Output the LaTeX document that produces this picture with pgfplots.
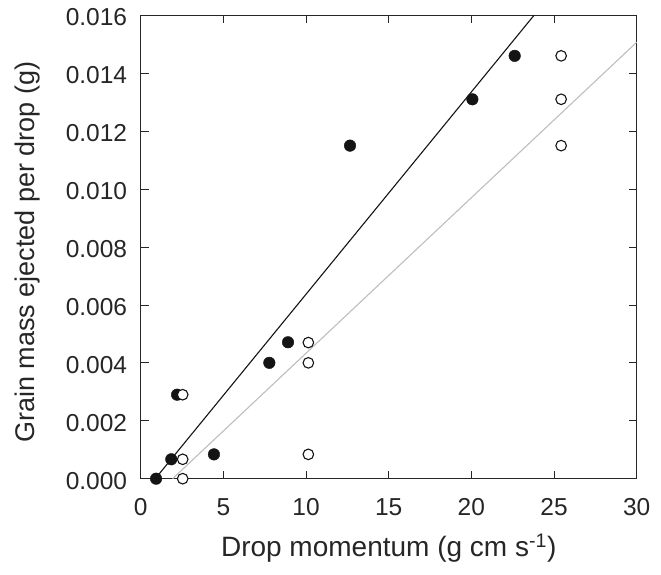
\documentclass[border=0pt]{standalone}
\usepackage{fontspec}
\setmainfont{Liberation Sans}
\usepackage{pgfplots}
\pgfplotsset{compat=1.18}
\definecolor{dk}{RGB}{20,20,20}
\definecolor{lg}{RGB}{190,190,190}
\begin{document}
\begin{tikzpicture}
\begin{axis}[
  scale only axis,
  width=496pt, height=463.4pt,
  xmin=0, xmax=30, ymin=0, ymax=0.016,
  xtick={0,5,...,30},
  ytick={0,0.002,...,0.016},
  scaled y ticks=false,
  yticklabel style={/pgf/number format/fixed, /pgf/number format/fixed zerofill, /pgf/number format/precision=3},
  /pgf/number format/assume math mode=true,
  tick label style={font=\fontsize{24.5}{28}\selectfont, text=black!85},
  xticklabel style={anchor=base, yshift=-36.3pt},
  yticklabel style={anchor=east, inner sep=0pt, xshift=-13.4pt, yshift=-2pt},
  tick align=inside,
  major tick length=8pt,
  tick style={line width=0.8pt, black!85},
  axis line style={line width=0.9pt, black!85},
  xlabel={Drop momentum (g cm s\textsuperscript{-1})},
  ylabel={Grain mass ejected per drop (g)},
  xlabel style={font=\fontsize{28}{32}\selectfont, text=black!85, at={(axis description cs:0.5,-0.168)}, anchor=base},
  ylabel style={font=\fontsize{27}{32}\selectfont, text=black!85, at={(axis description cs:-0.2131,0.489)}, anchor=base},
  clip=false,
]
\addplot[lg, line width=1.1pt] coordinates {(1.93,0) (30,0.01507)};
\addplot[dk, line width=1.1pt] coordinates {(0.88,0) (23.79,0.016)};
\addplot[only marks, mark=*, mark size=5.8pt, mark options={draw=dk, fill=dk}] coordinates {
(0.93,0) (1.85,0.00067) (2.20,0.0029) (4.43,0.00084) (7.78,0.0040)
(8.91,0.00471) (12.66,0.0115) (20.06,0.0131) (22.62,0.0146)};
\addplot[only marks, mark=*, mark size=5.3pt, mark options={draw=dk, fill=white, line width=1.1pt}] coordinates {
(2.54,0) (2.54,0.00067) (2.54,0.0029) (10.14,0.0047) (10.14,0.0040)
(10.14,0.00084) (25.43,0.0146) (25.43,0.0131) (25.43,0.0115)};
\end{axis}
\path ([shift={(-140.7pt,-96.3pt)}]current axis.south west) rectangle ([shift={(24.3pt,15.3pt)}]current axis.north east);
\end{tikzpicture}
\end{document}
